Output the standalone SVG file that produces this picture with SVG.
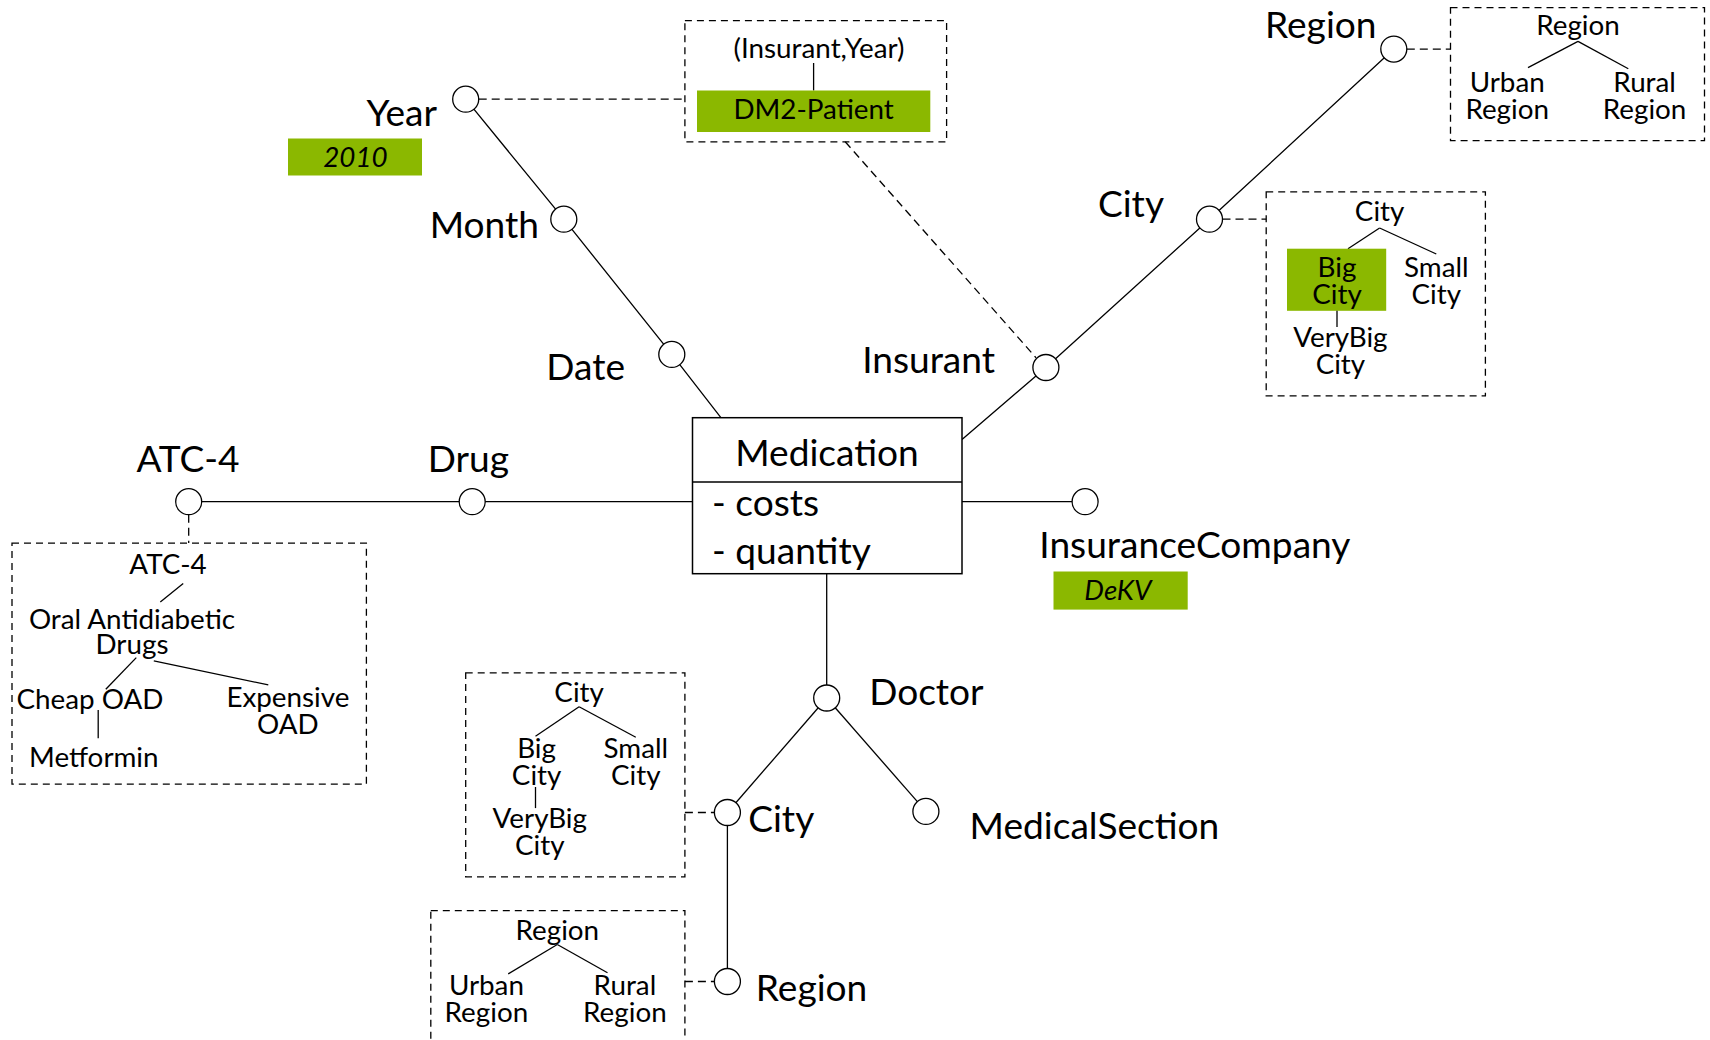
<svg xmlns="http://www.w3.org/2000/svg" width="1710" height="1040" viewBox="0 0 1710 1040">
<style>
.big{font-family:Lato,"Liberation Sans",sans-serif;font-size:37.1px;fill:#000}
.sm{font-family:Lato,"Liberation Sans",sans-serif;font-size:27.8px;fill:#000}
.it{font-style:italic}
.mid{text-anchor:middle}
.ln{stroke:#000;stroke-width:1.3;fill:none}
.dl{stroke:#000;stroke-width:1.3;fill:none;stroke-dasharray:8 5}
.box{stroke:#000;stroke-width:1.3;fill:none;stroke-dasharray:7 5}
.lvl{fill:#fff;stroke:#000;stroke-width:1.3}
.grn{fill:#8BB800}
</style>
<rect width="1710" height="1040" fill="#fff"/>
<g id="connectors">
<polyline class="ln" points="465.7,99.2 563.8,219.2 671.8,354.4 720.9,417.7"/>
<polyline class="ln" points="1393.8,49.1 1209.5,219.2 1045.9,367.5 962,439.5"/>
<line class="ln" x1="188.7" y1="501.7" x2="692.5" y2="501.7"/>
<line class="ln" x1="962" y1="501.7" x2="1072" y2="501.7"/>
<line class="ln" x1="826.7" y1="573.7" x2="826.7" y2="698"/>
<line class="ln" x1="826.7" y1="698" x2="727.4" y2="812.5"/>
<line class="ln" x1="826.7" y1="698" x2="925.9" y2="811.4"/>
<line class="ln" x1="727.4" y1="812.5" x2="727.4" y2="981.5"/>
<line class="dl" x1="478.7" y1="99.2" x2="684.9" y2="99.2"/>
<line class="dl" x1="845.2" y1="141.8" x2="1036" y2="357.7"/>
<line class="dl" x1="1406.8" y1="49.1" x2="1450.5" y2="49.1"/>
<line class="dl" x1="1222.5" y1="219.2" x2="1266.2" y2="219.2"/>
<line class="dl" x1="188.7" y1="514.7" x2="188.7" y2="543.1"/>
<line class="dl" x1="684.9" y1="812.5" x2="714.4" y2="812.5"/>
<line class="dl" x1="684.9" y1="981.5" x2="714.4" y2="981.5"/>
</g>
<g id="medication">
<rect x="692.5" y="417.7" width="269.5" height="156" fill="#fff" stroke="#000" stroke-width="1.5"/>
<line x1="692.5" y1="482" x2="962" y2="482" stroke="#000" stroke-width="1.5"/>
<text class="big mid" x="827" y="466">Medication</text>
<text class="big" x="712" y="516">- costs</text>
<text class="big" x="712" y="564">- quantity</text>
</g>
<g id="year">
<circle class="lvl" cx="465.7" cy="99.2" r="13"/>
<text class="big" x="437" y="125.5" text-anchor="end">Year</text>
<rect class="grn" x="288" y="138.5" width="134" height="37"/>
<text class="sm it mid" x="355.5" y="167">2010</text>
</g>
<g id="month">
<circle class="lvl" cx="563.8" cy="219.2" r="13"/>
<text class="big" x="539" y="237.7" text-anchor="end">Month</text>
</g>
<g id="date">
<circle class="lvl" cx="671.8" cy="354.4" r="13"/>
<text class="big" x="625" y="379.5" text-anchor="end">Date</text>
</g>
<g id="dm2-patient">
<rect class="box" x="684.9" y="20.7" width="261.7" height="121.1"/>
<text class="sm mid" x="819" y="57.8">(Insurant,Year)</text>
<line class="ln" x1="813.6" y1="63" x2="813.6" y2="90.5"/>
<rect class="grn" x="697" y="90.5" width="233.3" height="41.5"/>
<text class="sm mid" x="813.6" y="119">DM2-Patient</text>
</g>
<g id="insurant">
<circle class="lvl" cx="1045.9" cy="367.5" r="13"/>
<text class="big" x="995" y="373" text-anchor="end">Insurant</text>
</g>
<g id="city-top">
<circle class="lvl" cx="1209.5" cy="219.2" r="13"/>
<text class="big" x="1164" y="217" text-anchor="end">City</text>
</g>
<g id="region-top">
<circle class="lvl" cx="1393.8" cy="49.1" r="13"/>
<text class="big" x="1376.5" y="38.2" text-anchor="end">Region</text>
</g>
<g id="region-top-hierarchy">
<rect class="box" x="1450.5" y="7.6" width="254" height="133.1"/>
<text class="sm mid" x="1578" y="35">Region</text>
<line class="ln" x1="1578" y1="41.4" x2="1528" y2="67.6"/>
<line class="ln" x1="1578" y1="41.4" x2="1628.3" y2="68.7"/>
<text class="sm mid" x="1507.2" y="91.6">Urban</text>
<text class="sm mid" x="1507.2" y="119">Region</text>
<text class="sm mid" x="1644.6" y="91.6">Rural</text>
<text class="sm mid" x="1644.6" y="119">Region</text>
</g>
<g id="city-top-hierarchy">
<rect class="box" x="1266.2" y="191.9" width="219.2" height="204"/>
<text class="sm mid" x="1379.6" y="221.4">City</text>
<line class="ln" x1="1379.6" y1="228" x2="1348" y2="248.7"/>
<line class="ln" x1="1379.6" y1="228" x2="1436.3" y2="254"/>
<rect class="grn" x="1287" y="248.7" width="99.2" height="62.1"/>
<text class="sm mid" x="1337" y="277">Big</text>
<text class="sm mid" x="1337" y="304.3">City</text>
<text class="sm mid" x="1436.3" y="277">Small</text>
<text class="sm mid" x="1436.3" y="304.3">City</text>
<line class="ln" x1="1337" y1="310.8" x2="1337" y2="327"/>
<text class="sm mid" x="1340.4" y="346.8">VeryBig</text>
<text class="sm mid" x="1340.4" y="374.1">City</text>
</g>
<g id="atc4">
<circle class="lvl" cx="188.7" cy="501.7" r="13"/>
<text class="big mid" x="188" y="472.2">ATC-4</text>
</g>
<g id="atc4-hierarchy">
<rect class="box" x="12" y="543.1" width="354.4" height="241"/>
<text class="sm mid" x="168" y="573.7">ATC-4</text>
<line class="ln" x1="183.2" y1="583.5" x2="160.3" y2="602"/>
<text class="sm mid" x="132" y="629.3">Oral Antidiabetic</text>
<text class="sm mid" x="132" y="654.4">Drugs</text>
<line class="ln" x1="136.3" y1="657.6" x2="105.8" y2="689.3"/>
<line class="ln" x1="153.8" y1="660.9" x2="268.3" y2="684.9"/>
<text class="sm mid" x="90" y="708.9">Cheap OAD</text>
<text class="sm mid" x="287.9" y="706.7">Expensive</text>
<text class="sm mid" x="287.9" y="734">OAD</text>
<line class="ln" x1="98.2" y1="710" x2="98.2" y2="738.3"/>
<text class="sm mid" x="93.8" y="766.7">Metformin</text>
</g>
<g id="drug">
<circle class="lvl" cx="472.2" cy="501.7" r="13"/>
<text class="big mid" x="468.4" y="472.2">Drug</text>
</g>
<g id="insurancecompany">
<circle class="lvl" cx="1085.1" cy="501.7" r="13"/>
<text class="big" x="1039.3" y="558.4">InsuranceCompany</text>
<rect class="grn" x="1053.5" y="571.5" width="134.2" height="38.1"/>
<text class="sm it mid" x="1117.9" y="599.8">DeKV</text>
</g>
<g id="doctor">
<circle class="lvl" cx="826.7" cy="698" r="13"/>
<text class="big" x="869.2" y="704.5">Doctor</text>
</g>
<g id="medicalsection">
<circle class="lvl" cx="925.9" cy="811.4" r="13"/>
<text class="big" x="969.6" y="838.7">MedicalSection</text>
</g>
<g id="city-bottom">
<circle class="lvl" cx="727.4" cy="812.5" r="13"/>
<text class="big" x="748.2" y="832.1">City</text>
</g>
<g id="region-bottom">
<circle class="lvl" cx="727.4" cy="981.5" r="13"/>
<text class="big" x="755.8" y="1001.2">Region</text>
</g>
<g id="city-bottom-hierarchy">
<rect class="box" x="465.7" y="672.9" width="219.2" height="203.9"/>
<text class="sm mid" x="579.1" y="702.4">City</text>
<line class="ln" x1="579.1" y1="706.7" x2="535.5" y2="736.2"/>
<line class="ln" x1="579.1" y1="706.7" x2="635.8" y2="737.3"/>
<text class="sm mid" x="536.6" y="758">Big</text>
<text class="sm mid" x="536.6" y="785.2">City</text>
<text class="sm mid" x="635.8" y="758">Small</text>
<text class="sm mid" x="635.8" y="785.2">City</text>
<line class="ln" x1="535.5" y1="787" x2="535.5" y2="808.1"/>
<text class="sm mid" x="539.8" y="827.8">VeryBig</text>
<text class="sm mid" x="539.8" y="855">City</text>
</g>
<g id="region-bottom-hierarchy">
<rect class="box" x="430.8" y="910.6" width="254.1" height="140"/>
<text class="sm mid" x="557.3" y="940.1">Region</text>
<line class="ln" x1="557.3" y1="944.5" x2="508.2" y2="973.9"/>
<line class="ln" x1="557.3" y1="944.5" x2="607.5" y2="972.8"/>
<text class="sm mid" x="486.4" y="994.6">Urban</text>
<text class="sm mid" x="486.4" y="1021.9">Region</text>
<text class="sm mid" x="624.9" y="994.6">Rural</text>
<text class="sm mid" x="624.9" y="1021.9">Region</text>
</g>
</svg>
